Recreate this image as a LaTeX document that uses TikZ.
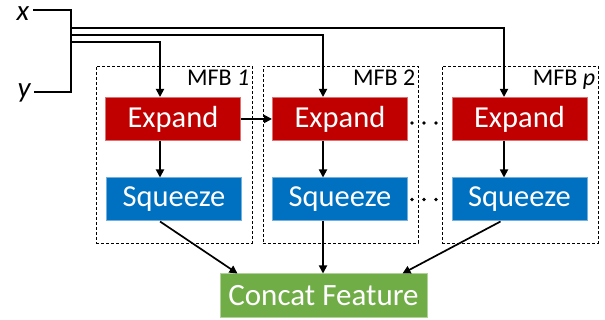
\documentclass[tikz,border=0pt]{standalone}
\usepackage{fontspec}
\setmainfont{Carlito}
\usetikzlibrary{arrows.meta}
\definecolor{expred}{HTML}{C00000}
\definecolor{sqblue}{HTML}{0070C0}
\definecolor{catgreen}{HTML}{70AD47}
\begin{document}
\begin{tikzpicture}[x=1pt,y=-1pt,
  blk/.style={minimum width=135pt, minimum height=43pt, inner sep=0pt,
    text=white, line width=1pt, font=\fontsize{30.5}{32}\selectfont},
  expandbox/.style={blk, fill=expred, draw=expred!55!white},
  squeezebox/.style={blk, fill=sqblue, draw=sqblue!55!white},
  concatbox/.style={blk, minimum width=207pt, minimum height=44pt,
    fill=catgreen, draw=catgreen!55!white, font=\fontsize{31}{33}\selectfont},
  frame/.style={draw, densely dashed, line width=0.8pt, minimum height=177pt, inner sep=0pt},
  mfblab/.style={anchor=north east, inner sep=0pt, font=\fontsize{24}{26}\selectfont},
  varlab/.style={inner sep=0pt, anchor=base, font=\fontsize{29}{31}\selectfont\itshape},
  wire/.style={line width=1.7pt},
  arr/.style={wire, -{Triangle[length=8pt,width=8pt]}},
  dotrow/.style={line width=3.6pt, line cap=round, dash pattern=on 0pt off 12pt}
]
\useasboundingbox (0,0) rectangle (605,320);

% input labels
\node[varlab] (lx) at (23,20.5) {x};
\node[varlab] (ly) at (24,98) {y};

% dashed MFB frames
\node[frame, minimum width=156pt] (f1) at (174,154.5) {};
\node[frame, minimum width=155pt] (f2) at (340.5,154.5) {};
\node[frame, minimum width=156pt] (fp) at (520,154.5) {};
\node[mfblab] (l1) at ([xshift=-3pt,yshift=-4pt]f1.north east) {MFB \textit{1}};
\node[mfblab] (l2) at ([xshift=-3pt,yshift=-4pt]f2.north east) {MFB 2};
\node[mfblab] (lp) at ([xshift=-3pt,yshift=-4pt]fp.north east) {MFB \textit{p}};

% blocks
\node[expandbox] (e1) at (173,119) {Expand};
\node[expandbox] (e2) at (340,119) {Expand};
\node[expandbox] (ep) at (519.5,119) {Expand};
\node[squeezebox] (s1) at (174,199.5) {Squeeze};
\node[squeezebox] (s2) at (340,199.5) {Squeeze};
\node[squeezebox] (sp) at (519.5,199.5) {Squeeze};
\node[concatbox] (cf) at (323.5,296) {Concat Feature};

% arrow columns
\coordinate (c1) at (160,0);
\coordinate (c2) at (323,0);
\coordinate (cp) at (504,0);
\coordinate (jt) at (71,10);
\coordinate (jb) at (71,92);

% input wiring
\draw[wire] ([xshift=4pt]lx.east |- jt) -- (jt) -- (jb) -- ([xshift=3pt]ly.east |- jb);
\draw[arr] (71,28) -| (ep.north -| cp);
\draw[arr] (71,35) -| (e2.north -| c2);
\draw[arr] (71,42) -| (e1.north -| c1);

% inside the frames
\draw[arr] (e1.south -| c1) -- (s1.north -| c1);
\draw[arr] (e2.south -| c2) -- (s2.north -| c2);
\draw[arr] (ep.south -| cp) -- (sp.north -| cp);
\draw[arr] (e1.east) -- (e2.west);

% ellipsis between block 2 and block p
\draw[dotrow] ([xshift=4pt,yshift=-4pt]e2.east) -- ([xshift=-14pt,yshift=-4pt]ep.west);
\draw[dotrow] ([xshift=4pt]s2.east) -- ([xshift=-14pt]sp.west);

% outputs to concat
\draw[arr] (s1.south -| c1) -- ([xshift=-86pt]cf.north);
\draw[arr] (s2.south -| c2) -- (cf.north -| c2);
\draw[arr] ([xshift=-19pt]sp.south) -- ([xshift=79pt]cf.north);
\end{tikzpicture}
\end{document}
